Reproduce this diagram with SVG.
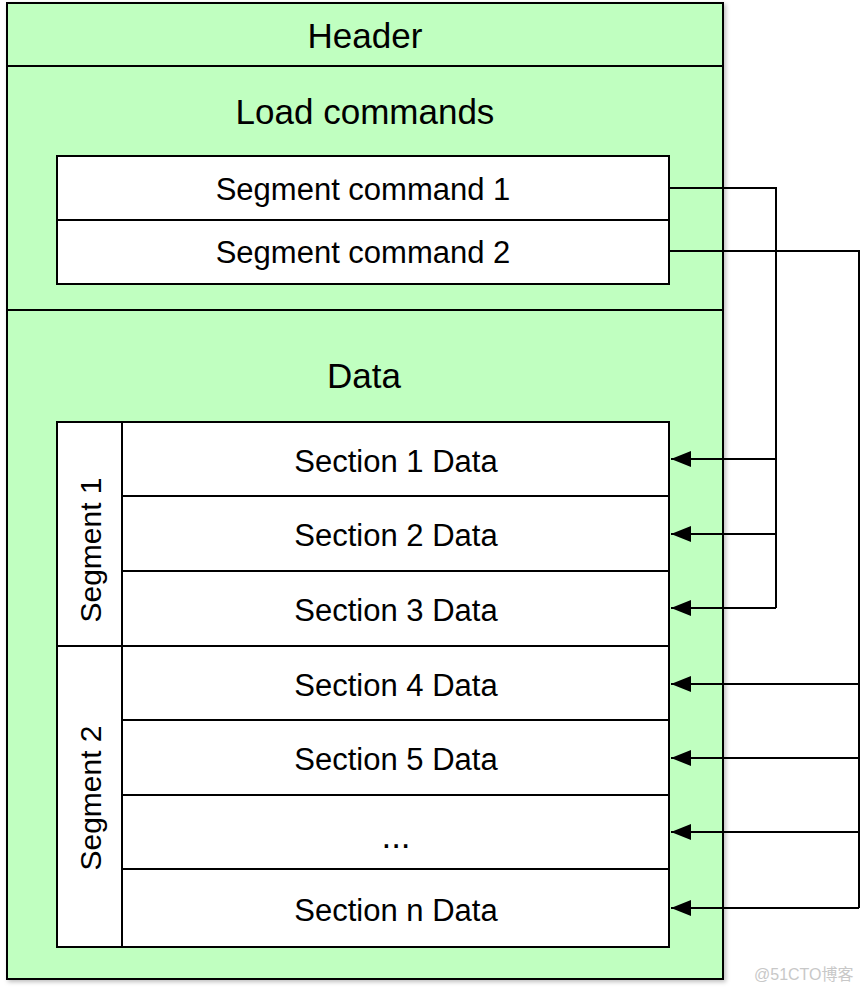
<svg xmlns="http://www.w3.org/2000/svg" width="862" height="993" viewBox="0 0 862 993">
<defs>
<style>
.box{fill:#c0ffc0;stroke:#000;stroke-width:2}
.wbox{fill:#fff;stroke:#000;stroke-width:2}
.ln{stroke:#000;stroke-width:2;fill:none}
.big{font-family:"Liberation Sans",Arial,sans-serif;font-size:35px;fill:#000;text-anchor:middle}
.sm{font-family:"Liberation Sans",Arial,sans-serif;font-size:31px;fill:#000;text-anchor:middle}
.vt{font-family:"Liberation Sans",Arial,sans-serif;font-size:30px;fill:#000;text-anchor:middle}
.wm{font-family:"Liberation Sans","Noto Sans CJK SC",sans-serif;font-size:16px;fill:#c8c8c8}
</style>
<marker id="ah" viewBox="0 0 20 16" refX="20" refY="8" markerWidth="20" markerHeight="16" markerUnits="userSpaceOnUse" orient="auto">
<path d="M0,0 L20,8 L0,16 Z" fill="#000"/>
</marker>
<filter id="sh" x="-5%" y="-5%" width="110%" height="110%"><feDropShadow dx="2" dy="2" stdDeviation="2" flood-color="#000" flood-opacity="0.25"/></filter>
</defs>
<g id="outer">
<rect class="box" x="7" y="3" width="716" height="976" filter="url(#sh)"/>
</g>
<g id="header">
<line class="ln" x1="7" y1="66" x2="723" y2="66"/>
<text class="big" x="365" y="48">Header</text>
</g>
<g id="loadcommands">
<line class="ln" x1="7" y1="310" x2="723" y2="310"/>
<text class="big" x="365" y="124">Load commands</text>
</g>
<g id="segcmd1">
<rect class="wbox" x="57" y="156" width="612" height="64"/>
<text class="sm" x="363" y="200">Segment command 1</text>
</g>
<g id="segcmd2">
<rect class="wbox" x="57" y="220" width="612" height="64"/>
<text class="sm" x="363" y="263">Segment command 2</text>
</g>
<g id="data">
<text class="big" x="364" y="388">Data</text>
</g>
<g id="segment1">
<rect class="wbox" x="57" y="422" width="65" height="224"/>
<text class="vt" transform="translate(101,550) rotate(-90)">Segment 1</text>
</g>
<g id="segment2">
<rect class="wbox" x="57" y="646" width="65" height="301"/>
<text class="vt" transform="translate(101,798) rotate(-90)">Segment 2</text>
</g>
<g id="sec1"><rect class="wbox" x="122" y="422" width="547" height="74"/><text class="sm" x="396" y="472">Section 1 Data</text></g>
<g id="sec2"><rect class="wbox" x="122" y="496" width="547" height="75"/><text class="sm" x="396" y="546">Section 2 Data</text></g>
<g id="sec3"><rect class="wbox" x="122" y="571" width="547" height="75"/><text class="sm" x="396" y="621">Section 3 Data</text></g>
<g id="sec4"><rect class="wbox" x="122" y="646" width="547" height="74"/><text class="sm" x="396" y="696">Section 4 Data</text></g>
<g id="sec5"><rect class="wbox" x="122" y="720" width="547" height="75"/><text class="sm" x="396" y="770">Section 5 Data</text></g>
<g id="secdots"><rect class="wbox" x="122" y="795" width="547" height="74"/><text class="big" x="396" y="848">...</text></g>
<g id="secn"><rect class="wbox" x="122" y="869" width="547" height="78"/><text class="sm" x="396" y="921">Section n Data</text></g>
<g id="connectors">
<path class="ln" d="M669,188 H776 V608"/>
<line class="ln" x1="776" y1="459" x2="671" y2="459" marker-end="url(#ah)"/>
<line class="ln" x1="776" y1="534" x2="671" y2="534" marker-end="url(#ah)"/>
<line class="ln" x1="776" y1="608" x2="671" y2="608" marker-end="url(#ah)"/>
<path class="ln" d="M669,251 H859 V908"/>
<line class="ln" x1="859" y1="684" x2="671" y2="684" marker-end="url(#ah)"/>
<line class="ln" x1="859" y1="758" x2="671" y2="758" marker-end="url(#ah)"/>
<line class="ln" x1="859" y1="832" x2="671" y2="832" marker-end="url(#ah)"/>
<line class="ln" x1="859" y1="908" x2="671" y2="908" marker-end="url(#ah)"/>
</g>
<text class="wm" x="754" y="980">@51CTO博客</text>
</svg>
